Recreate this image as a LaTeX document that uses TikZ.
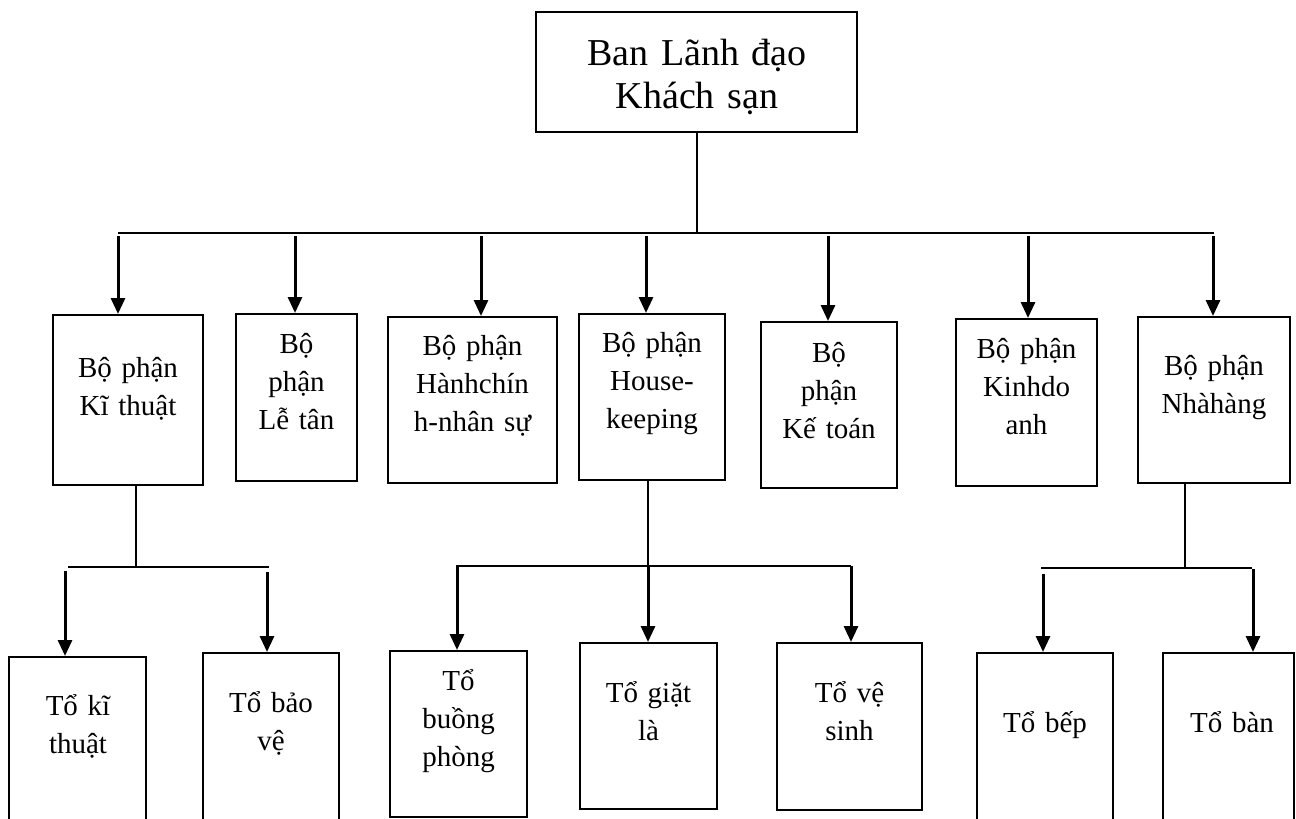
\documentclass[tikz,border=0pt]{standalone}
\usepackage{fontspec}
\setmainfont{Liberation Serif}
\usetikzlibrary{arrows.meta}
\tikzset{box/.style={draw, line width=1pt, inner sep=0pt},
	lbl/.style={anchor=base, align=center, text width=90pt, inner sep=0pt, font=\fontsize{14.5}{19.2}\selectfont},
	arr/.style={-{Triangle[width=7pt,length=8pt]}, line width=1.5pt},
	bus/.style={line width=1pt}}

\begin{document}
\begin{tikzpicture}[x=0.5pt,y=-0.5pt]
		\useasboundingbox (0,0) rectangle (1296,819);
		% ban lanh dao
		\node[box, minimum width=160.5pt, minimum height=60pt] (bld) at (696.5,72) {};
		\node[lbl, text width=160pt, font=\fontsize{19}{21.5}\selectfont] (bld-t) at (697,65) {Ban Lãnh đạo\\Khách sạn};
		
		% cac bo phan
		\node[box, minimum width=75pt, minimum height=85pt] (kt) at (128,400) {};
		\node[box, minimum width=60.5pt, minimum height=83.5pt] (lt) at (296.5,397.5) {};
		\node[box, minimum width=84.5pt, minimum height=83pt] (hc) at (472.5,400) {};
		\node[box, minimum width=73pt, minimum height=83pt] (hk) at (652,397) {};
		\node[box, minimum width=68pt, minimum height=83pt] (ktoan) at (829,405) {};
		\node[box, minimum width=70.5pt, minimum height=83.5pt] (kd) at (1026.5,402.5) {};
		\node[box, minimum width=76pt, minimum height=83pt] (nh) at (1214,400) {};
		\node[lbl] (kt-t) at (128,377) {Bộ phận\\Kĩ thuật};
		\node[lbl] (lt-t) at (296.5,353) {Bộ\\phận\\Lễ tân};
		\node[lbl] (hc-t) at (472.5,355) {Bộ phận\\Hànhchín\\h-nhân sự};
		\node[lbl] (hk-t) at (652,352) {Bộ phận\\House-\\keeping};
		\node[lbl] (ktoan-t) at (829,362) {Bộ\\phận\\Kế toán};
		\node[lbl] (kd-t) at (1026.5,358) {Bộ phận\\Kinhdo\\anh};
		\node[lbl] (nh-t) at (1214,375) {Bộ phận\\Nhàhàng};
		
		% cac to
		\node[box, minimum width=68.5pt, minimum height=84pt] (tkt) at (77.5,741) {};
		\node[box, minimum width=68pt, minimum height=86pt] (tbv) at (271,739) {};
		\node[box, minimum width=68.5pt, minimum height=83pt] (tbp) at (458.5,734) {};
		\node[box, minimum width=68.5pt, minimum height=83pt] (tgl) at (648.5,726) {};
		\node[box, minimum width=72.5pt, minimum height=83.5pt] (tvs) at (849.5,726.5) {};
		\node[box, minimum width=68pt, minimum height=83.5pt] (tbep) at (1045,736.5) {};
		\node[box, minimum width=65.5pt, minimum height=83.5pt] (tban) at (1228.5,736.5) {};
		\node[lbl] (tkt-t) at (78,715) {Tổ kĩ\\thuật};
		\node[lbl] (tbv-t) at (271,712) {Tổ bảo\\vệ};
		\node[lbl] (tbp-t) at (458.5,690) {Tổ\\buồng\\phòng};
		\node[lbl] (tgl-t) at (648.5,702) {Tổ giặt\\là};
		\node[lbl] (tvs-t) at (849.5,702) {Tổ vệ\\sinh};
		\node[lbl] (tbep-t) at (1045,732) {Tổ bếp};
		\node[lbl] (tban-t) at (1232,732) {Tổ bàn};
		
		% noi cap 1
		\coordinate (top-j) at (697,233);
		\coordinate (top-l) at (118,233);
		\coordinate (top-r) at (1214,233);
		\draw[bus] (bld.south -| top-j) -- (top-j);
		\draw[bus] (top-l) -- (top-r);
		\foreach \n/\x in {kt/118,lt/295,hc/481,hk/646,ktoan/828,kd/1028,nh/1213}{
			\coordinate (a-\n) at (\x,236);
			\draw[arr] (a-\n) -- (a-\n |- \n.north);
		}
		
		% noi cap 2
		\coordinate (kt-j) at (136,567);
		\coordinate (kt-l) at (68,567);
		\coordinate (kt-r) at (269,567);
		\draw[bus] (kt.south -| kt-j) -- (kt-j);
		\draw[bus] (kt-l) -- (kt-r);
		\coordinate (hk-j) at (648,566);
		\coordinate (hk-l) at (456,566);
		\coordinate (hk-r) at (851,566);
		\draw[bus] (hk.south -| hk-j) -- (hk-j);
		\draw[bus] (hk-l) -- (hk-r);
		\coordinate (nh-j) at (1185,568);
		\coordinate (nh-l) at (1041,568);
		\coordinate (nh-r) at (1252,568);
		\draw[bus] (nh.south -| nh-j) -- (nh-j);
		\draw[bus] (nh-l) -- (nh-r);
		\foreach \n/\x/\y in {tkt/65/571,tbv/267/572,tbp/457/566,tgl/648/566,tvs/851/566,tbep/1043/574,tban/1253/569}{
			\coordinate (a-\n) at (\x,\y);
			\draw[arr] (a-\n) -- (a-\n |- \n.north);
		}
		\end{tikzpicture}
\end{document}
